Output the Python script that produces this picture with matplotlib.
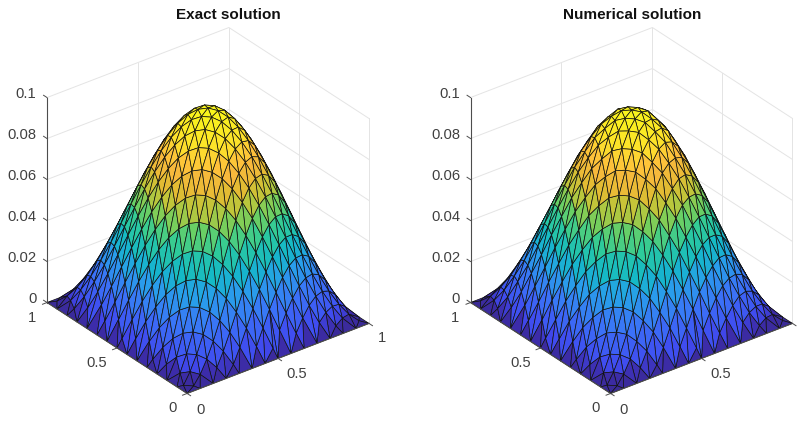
import numpy as np
import matplotlib
matplotlib.use('Agg')
import matplotlib.pyplot as plt
import matplotlib.tri as mtri
from matplotlib.colors import LinearSegmentedColormap
from matplotlib.transforms import ScaledTranslation
from mpl_toolkits.mplot3d import proj3d

plt.rcParams['font.family'] = ['Liberation Sans', 'DejaVu Sans']

# the mesh runs in rows across the diagonal, from the (0,0) corner to the peak row.
# height (x1e-4), from the middle of a row out to its edge
exact_rows = [
    [10],
    [50, 40],
    [107, 88, 50],
    [188, 179, 150, 104, 42],
    [281, 262, 224, 170, 100],
    [389, 379, 351, 305, 242, 167, 80],
    [498, 479, 441, 387, 317, 236, 145, 49],
    [611, 602, 573, 527, 465, 389, 303, 209, 111],
    [715, 696, 658, 604, 534, 453, 362, 266, 168, 72],
    [812, 802, 774, 728, 665, 590, 503, 409, 312, 214, 120],
    [889, 869, 832, 777, 708, 627, 536, 440, 342, 246, 155, 74],
    [951, 941, 913, 866, 804, 728, 642, 548, 451, 353, 259, 173, 97, 35],
    [985, 966, 928, 874, 805, 723, 633, 536, 438, 342, 252, 170, 101, 46],
    [1000, 990, 962, 916, 854, 778, 691, 598, 500, 402, 309, 222, 146, 84, 38, 10],
]
numerical_rows = [
    [11],
    [49, 41],
    [106, 89, 49],
    [187, 180, 149, 105, 41],
    [280, 263, 223, 171, 99],
    [388, 380, 350, 306, 241, 168, 79],
    [497, 480, 440, 388, 316, 237, 144, 50],
    [610, 603, 572, 528, 464, 390, 302, 210, 110],
    [713, 697, 656, 605, 532, 454, 361, 267, 167, 73],
    [809, 803, 771, 729, 663, 591, 502, 410, 311, 215, 119],
    [884, 870, 827, 778, 705, 628, 534, 441, 341, 247, 154, 75],
    [944, 940, 907, 865, 800, 727, 640, 547, 450, 354, 258, 174, 96, 36],
    [976, 962, 920, 872, 799, 721, 630, 535, 437, 343, 251, 171, 100, 47],
    [990, 984, 953, 912, 848, 775, 688, 596, 499, 403, 308, 223, 145, 85, 37, 11],
]

titles = ['Exact solution', 'Numerical solution']
title_x = [228, 632]
panel_x0 = [-9.2, 414.3]
# the x=1 label of the right panel falls outside the picture in the original
show_last_x = [True, False]

xy_ticks = [0, 0.5, 1]
xy_tick_labels = ['0', '0.5', '1']
z_ticks = [0, 0.02, 0.04, 0.06, 0.08, 0.1]
z_tick_labels = ['0', '0.02', '0.04', '0.06', '0.08', '0.1']

colors = [(0.0, '#3a2a96'), (0.04, '#3c2caa'), (0.065, '#4049ef'), (0.2, '#3b72f8'),
          (0.32, '#289fea'), (0.4, '#14b8c8'), (0.5, '#2ecb9a'), (0.58, '#6fcf60'),
          (0.66, '#bfc63a'), (0.72, '#e3bb33'), (0.8, '#fdb93f'), (0.88, '#fde02c'),
          (1.0, '#f8f51b')]
cmap = LinearSegmentedColormap.from_list('surf', colors)

W, H = 803, 423
N_ROWS = 14
GRID = '#e4e4e4'
AXIS = '#4d4d4d'
TEXT = '#404040'


def build_mesh(rows):
    xs, ys, zs, tris = [0.0], [0.0], [0.0], []
    prev_idx, prev_v = [0], [0.0]
    # row numbers going up to the peak, then back down on the far side
    order = [(k, k) for k in range(1, N_ROWS + 1)]
    order += [(k, 2 * N_ROWS - k) for k in range(N_ROWS - 1, -1, -1)]
    for k, pos in order:
        u = k / N_ROWS
        if k == 0:
            row_v, row_z = [0.0], [0.0]
        else:
            vals = rows[k - 1]
            half = [(j + 0.5 * (k % 2)) / 16 for j in range(len(vals))]
            if k % 2:
                row_v = [-u] + [-v for v in half[::-1]] + half + [u]
                row_z = [0] + vals[::-1] + vals + [0]
            else:
                row_v = [-u] + [-v for v in half[:0:-1]] + half + [u]
                row_z = [0] + vals[:0:-1] + vals + [0]
        s = len(xs)
        uu = pos / N_ROWS
        for v, z in zip(row_v, row_z):
            xs.append((uu + v) / 2)
            ys.append((uu - v) / 2)
            zs.append(z * 1e-4)
        idx = list(range(s, len(xs)))
        i, j = 0, 0
        while i < len(prev_idx) - 1 or j < len(idx) - 1:
            if j == len(idx) - 1 or (i < len(prev_idx) - 1 and prev_v[i + 1] <= row_v[j + 1]):
                tris.append([prev_idx[i], prev_idx[i + 1], idx[j]])
                i += 1
            else:
                tris.append([prev_idx[i], idx[j], idx[j + 1]])
                j += 1
        prev_idx, prev_v = idx, row_v
    return np.array(xs), np.array(ys), np.array(zs), tris


def label(ax, x, y, z, s, dx, dy, ha='center'):
    # offset in pixels from the projected point
    px, py, _ = proj3d.proj_transform(x, y, z, ax.get_proj())
    tr = ax.transData + ScaledTranslation(dx / 100, dy / 100, ax.figure.dpi_scale_trans)
    ax.text2D(px, py, s, transform=tr, ha=ha, va='center', fontsize=10.6, color=TEXT)


def draw_panel(fig, x0, rows, last_x):
    ax = fig.add_axes([x0 / W, -4.7 / H, 423 / W, 423 / H], projection='3d',
                      proj_type='ortho', computed_zorder=False)
    ax.set_axis_off()
    ax.view_init(elev=30, azim=-127.6)
    ax.set_box_aspect((1, 1, 1.031), zoom=0.922)
    ax.set_xlim(0, 1, view_margin=0)
    ax.set_ylim(0, 1, view_margin=0)
    ax.set_zlim(0, 0.1, view_margin=0)

    # back walls
    for z in z_ticks:
        ax.plot([0, 1, 1], [1, 1, 0], [z, z, z], color=GRID, lw=0.7, zorder=1)
    for t in xy_ticks[1:]:
        ax.plot([t, t], [1, 1], [0, 0.1], color=GRID, lw=0.7, zorder=1)
    for t in xy_ticks[:-1]:
        ax.plot([1, 1], [t, t], [0, 0.1], color=GRID, lw=0.7, zorder=1)

    # surface
    xs, ys, zs, tris = build_mesh(rows)
    tri = mtri.Triangulation(xs, ys, tris)
    ax.plot_trisurf(tri, zs, cmap=cmap, vmin=0, vmax=0.1, edgecolor='#101010',
                    linewidth=0.5, antialiased=True, zorder=2)

    # rulers
    ax.plot([0, 0], [1, 1], [0, 0.1], color=AXIS, lw=0.8, zorder=3)
    ax.plot([0, 1], [0, 0], [0, 0], color=AXIS, lw=0.8, zorder=3)
    ax.plot([0, 0], [0, 1], [0, 0], color=AXIS, lw=0.8, zorder=3)

    for z, s in zip(z_ticks, z_tick_labels):
        ax.plot([0, 0], [1, 1.025], [z, z], color=AXIS, lw=0.7, zorder=3)
        label(ax, 0, 1, z, s, -10.5, 4, ha='right')

    x_off = [(13, -16.7), (18.7, -15.7), (12.7, -15)]
    y_off = [(-15, -15), (-20, -14.7), (-15.5, -15)]
    for t, s, xo, yo in zip(xy_ticks, xy_tick_labels, x_off, y_off):
        ax.plot([t, t], [0, -0.025], [0, 0], color=AXIS, lw=0.7, zorder=3)
        ax.plot([0, -0.025], [t, t], [0, 0], color=AXIS, lw=0.7, zorder=3)
        if t < 1 or last_x:
            label(ax, t, 0, 0, s, *xo)
        label(ax, 0, t, 0, s, *yo)
    return ax


fig = plt.figure(figsize=(W / 100, H / 100), dpi=100)
for x0, rows, title, tx, last_x in zip(panel_x0, [exact_rows, numerical_rows], titles, title_x, show_last_x):
    draw_panel(fig, x0, rows, last_x)
    fig.text(tx / W, 1 - 15 / H, title, ha='center', va='center', fontsize=11,
             fontweight='bold', color='#111111')

plt.savefig('out.png', dpi=100)
